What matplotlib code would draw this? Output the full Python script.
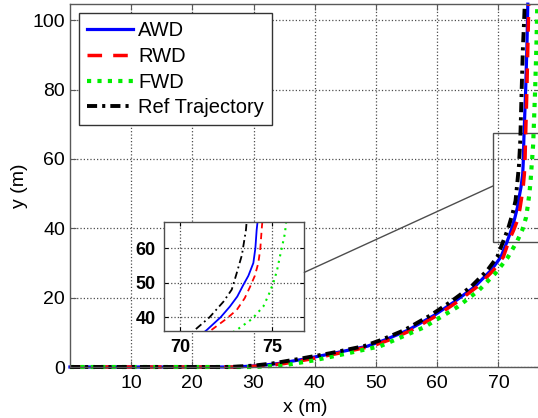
import numpy as np
import matplotlib
matplotlib.use('Agg')
import matplotlib.pyplot as plt
from matplotlib.patches import Rectangle, ConnectionPatch

plt.rcParams['font.family'] = ['Liberation Sans', 'DejaVu Sans']

# trajectories (x, y in metres)
ref_x = [0, 26, 30, 33, 37, 42.6, 48, 50.7, 54.6, 58.9, 62.2, 65.5, 68.2, 69.8,
         70.8, 71.6, 72.35, 72.8, 73.07, 73.35, 73.57, 73.8, 74.0, 74.2, 74.3]
ref_y = [0, 0, 0.4, 1.0, 2.2, 4.0, 6.0, 7.7, 10.6, 14.9, 18.8, 23.1, 27.9, 31.7,
         36.3, 40.0, 44.5, 48.0, 52.8, 58.0, 65.3, 80, 92, 100, 104.6]

awd_x = [0, 27, 31, 34, 38, 43.2, 48.6, 51.3, 55.2, 59.5, 62.8, 66.1, 68.8, 70.4,
         71.45, 72.2, 72.7, 73.1, 73.43, 73.7, 73.97, 74.08, 74.15, 74.45, 74.65, 74.75, 74.8]
awd_y = [0, 0, 0.4, 1.0, 2.2, 4.0, 6.0, 7.7, 10.6, 14.9, 18.8, 23.1, 27.9, 31.7,
         36.3, 40.0, 43.1, 46.0, 49.4, 52.0, 55.7, 60.0, 65.3, 80, 92, 100, 104.6]

rwd_x = [0, 28, 32, 35, 39, 44, 49.3, 52, 55.8, 60, 63.3, 66.5, 69.2, 70.8,
         71.7, 72.5, 73.07, 73.5, 73.8, 74.05, 74.24, 74.35, 74.42, 74.65, 74.8, 74.9, 74.95]
rwd_y = [0, 0, 0.4, 1.0, 2.2, 4.0, 6.0, 7.7, 10.6, 14.9, 18.8, 23.1, 27.9, 31.7,
         36.3, 39.5, 42.1, 45.5, 48.9, 52.0, 55.7, 60.0, 65.3, 80, 92, 100, 104.6]

fwd_x = [0, 30, 35, 39.8, 45, 50.7, 57.8, 63.3, 66.8, 69.5, 71.5,
         73.07, 73.9, 74.51, 74.8, 75.05, 75.25, 75.41, 75.55, 75.68, 76.0, 76.2, 76.3, 76.35]
fwd_y = [0, 0, 0.5, 1.9, 3.8, 6.0, 11.4, 17.3, 22.1, 27.0, 31.5,
         36.3, 39.5, 43.1, 46.5, 49.9, 53.5, 57.6, 61.0, 64.3, 80, 92, 100, 104.6]

labels = ['AWD', 'RWD', 'FWD', 'Ref Trajectory']

xlim_main = (0, 76.73)
ylim_main = (0, 104.6)
xlim_zoom = (69.13, 76.73)
ylim_zoom = (36.1, 67.6)

fig = plt.figure(figsize=(5.38, 4.18), dpi=100)
ax = fig.add_axes([0.130, 0.122, 0.873, 0.868])

h1, = ax.plot(awd_x, awd_y, '-', color='#0000ff', lw=2.3, clip_on=False)
h2, = ax.plot(rwd_x, rwd_y, '--', color='#ff0000', lw=2.5, dashes=[4.2, 3.2], clip_on=False)
h3, = ax.plot(fwd_x, fwd_y, ':', color='#00ee00', lw=3.0, dashes=[1, 1.5], clip_on=False)
h4, = ax.plot(ref_x, ref_y, '-.', color='black', lw=2.8, dashes=[2.6, 1.3, 0.8, 1.3], clip_on=False)

ax.set_xlim(*xlim_main)
ax.set_ylim(*ylim_main)
ax.set_xticks([10, 20, 30, 40, 50, 60, 70])
ax.set_yticks([0, 20, 40, 60, 80, 100])
ax.grid(True, linestyle=':', color='0.3', lw=0.9)
ax.tick_params(direction='in', top=True, right=True, labelsize=14, length=4, color='0.35')
ax.tick_params(axis='x', pad=6)
for s in ax.spines.values():
    s.set_color('0.35')
    s.set_linewidth(1.0)
ax.set_xlabel('x (m)', fontsize=14, labelpad=5)
ax.set_ylabel('y (m)', fontsize=14, labelpad=3)

leg = ax.legend([h1, h2, h3, h4], labels, loc='upper left', fontsize=14.5,
                fancybox=False, framealpha=1, edgecolor='0.2', borderaxespad=0.45,
                handlelength=2.3, handletextpad=0.25, labelspacing=0.34, borderpad=0.38)
leg.get_frame().set_linewidth(1.0)

# zoom window on the main plot
ax.add_patch(Rectangle((xlim_zoom[0], ylim_zoom[0]), xlim_zoom[1] - xlim_zoom[0],
                       ylim_zoom[1] - ylim_zoom[0], fill=False, edgecolor='0.3', lw=1.0))

# inset
axi = fig.add_axes([0.3048, 0.2089, 0.2608, 0.260])
axi.plot(awd_x, awd_y, '-', color='#0000ff', lw=1.3)
axi.plot(rwd_x, rwd_y, '--', color='#ff0000', lw=1.3, dashes=[3.5, 2.5])
axi.plot(fwd_x, fwd_y, ':', color='#00ee00', lw=1.5, dashes=[1, 2.2])
axi.plot(ref_x, ref_y, '-.', color='black', lw=1.3, dashes=[4, 2, 1, 2])
axi.set_xlim(*xlim_zoom)
axi.set_ylim(*ylim_zoom)
axi.set_xticks([70, 75])
axi.set_yticks([40, 50, 60])
axi.grid(True, linestyle=':', color='0.3', lw=0.9)
axi.tick_params(direction='in', top=True, right=True, labelsize=13, length=3, pad=6)
for t in axi.get_xticklabels() + axi.get_yticklabels():
    t.set_fontweight('bold')
for s in axi.spines.values():
    s.set_color('0.3')
    s.set_linewidth(1.0)

con = ConnectionPatch(xyA=(xlim_zoom[1], 53.0), coordsA=axi.transData,
                      xyB=(xlim_zoom[0], 52.2), coordsB=ax.transData,
                      color='0.3', lw=1.0)
fig.add_artist(con)

fig.savefig('out.png', dpi=100)
